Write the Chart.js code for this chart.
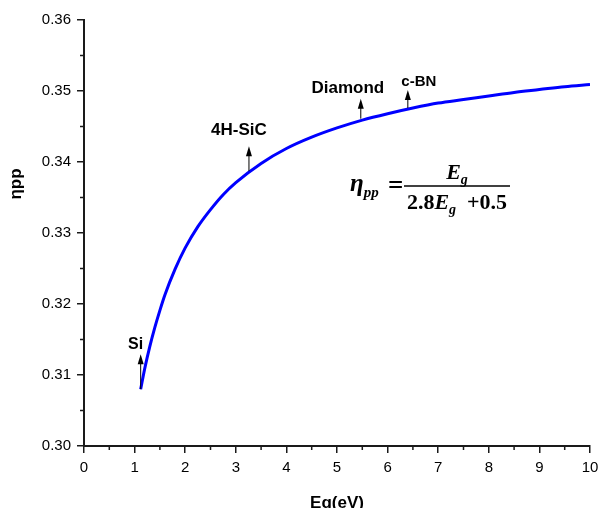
<!DOCTYPE html>
<html>
<head>
<meta charset="utf-8">
<script src="https://cdn.jsdelivr.net/npm/chart.js@4"></script>
<style>
  html, body { margin: 0; padding: 0; background: #fff; }
  .chart-wrapper { width: 601px; height: 508px; }
</style>
</head>
<body>
<div class="chart-wrapper"><canvas id="chart" width="601" height="508"></canvas></div>
<script>
// values
const energyGap = [1.12, 1.2, 1.3, 1.4, 1.5, 1.6, 1.8, 2.0, 2.25, 2.5, 2.75, 3.0, 3.5,
  4.0, 4.5, 5.0, 5.5, 6.0, 6.5, 7.0, 7.5, 8.0, 8.5, 9.0, 9.5, 10.0];
const efficiency = [0.3080, 0.3109, 0.3140, 0.3167, 0.3191, 0.3213, 0.3249, 0.3279, 0.3309,
  0.3333, 0.3354, 0.3371, 0.3398, 0.3419, 0.3435, 0.3448, 0.3459, 0.3468, 0.3476, 0.3483,
  0.3488, 0.3493, 0.3498, 0.3502, 0.3506, 0.3509];

// marked materials
const materialNames = ['Si', '4H-SiC', 'Diamond', 'c-BN'];
const materialGaps = [1.12, 3.26, 5.47, 6.4];
const materialEta = [0.3080, 0.3387, 0.3461, 0.3476];

const axisColor = '#1a1a1a';

const extrasPlugin = {
  id: 'extras',
  afterDraw(chart) {
    const ctx = chart.ctx;
    const xs = chart.scales.x;
    const ys = chart.scales.y;
    const area = chart.chartArea;
    ctx.save();

    // minor ticks
    ctx.strokeStyle = axisColor;
    ctx.lineWidth = 1.5;
    ctx.beginPath();
    for (let v = 0.5; v < 10; v += 1) {
      const px = xs.getPixelForValue(v);
      ctx.moveTo(px, area.bottom);
      ctx.lineTo(px, area.bottom + 4);
    }
    for (let v = 0.305; v < 0.36; v += 0.01) {
      const py = ys.getPixelForValue(v);
      ctx.moveTo(area.left, py);
      ctx.lineTo(area.left - 4, py);
    }
    ctx.stroke();

    // axis titles
    ctx.fillStyle = '#000';
    ctx.font = 'bold 17px Arial, "Liberation Sans", sans-serif';
    ctx.textAlign = 'center';
    ctx.textBaseline = 'middle';
    ctx.fillText('Eg(eV)', 337, 503);
    ctx.save();
    ctx.translate(16, 184);
    ctx.rotate(-Math.PI / 2);
    ctx.fillText('\u03b7pp', 0, 0);
    ctx.restore();

    // arrows and labels
    const arrowLen = [35, 25, 20, 18];
    const labelDx = [-5, -10, -13, 11];
    const labelGap = [5, 11, 6, 4];
    const labelSize = [16, 17, 17, 15];
    materialNames.forEach((name, i) => {
      const x = xs.getPixelForValue(materialGaps[i]);
      const yBase = ys.getPixelForValue(materialEta[i]);
      const yTip = yBase - arrowLen[i];
      ctx.strokeStyle = '#000';
      ctx.lineWidth = 1;
      ctx.beginPath();
      ctx.moveTo(x, yBase);
      ctx.lineTo(x, yTip + 6);
      ctx.stroke();
      ctx.beginPath();
      ctx.moveTo(x, yTip);
      ctx.lineTo(x - 3, yTip + 10);
      ctx.lineTo(x + 3, yTip + 10);
      ctx.closePath();
      ctx.fill();
      ctx.font = 'bold ' + labelSize[i] + 'px Arial, "Liberation Sans", sans-serif';
      ctx.textAlign = 'center';
      ctx.textBaseline = 'alphabetic';
      ctx.fillText(name, x + labelDx[i], yTip - labelGap[i]);
    });

    // formula
    const serif = '"Liberation Serif", "Times New Roman", serif';
    const big = 'bold 22px ' + serif;
    const bigIt = 'italic bold 22px ' + serif;
    const sub = 'italic bold 14px ' + serif;
    ctx.textAlign = 'left';
    ctx.textBaseline = 'alphabetic';
    ctx.font = 'italic bold 25px ' + serif;
    ctx.fillText('\u03b7', 350, 191);
    let w = ctx.measureText('\u03b7').width;
    ctx.font = 'italic bold 15px ' + serif;
    ctx.fillText('pp', 350 + w, 197);
    ctx.font = 'bold 27px ' + serif;
    ctx.fillText('=', 388, 194);

    const barL = 404, barR = 510, barY = 186;
    ctx.lineWidth = 1.5;
    ctx.beginPath();
    ctx.moveTo(barL, barY);
    ctx.lineTo(barR, barY);
    ctx.stroke();
    const mid = (barL + barR) / 2;

    const drawParts = (parts, baseY) => {
      let total = 0;
      parts.forEach(p => { ctx.font = p.font; total += ctx.measureText(p.text).width; });
      let cx = mid - total / 2;
      parts.forEach(p => {
        ctx.font = p.font;
        ctx.fillText(p.text, cx, baseY + (p.dy || 0));
        cx += ctx.measureText(p.text).width;
      });
    };
    drawParts([{ text: 'E', font: bigIt }, { text: 'g', font: sub, dy: 5 }], 179);
    drawParts([
      { text: '2.8', font: big },
      { text: 'E', font: bigIt },
      { text: 'g', font: sub, dy: 5 },
      { text: '  +0.5', font: big }
    ], 209);

    ctx.restore();
  }
};

new Chart(document.getElementById('chart').getContext('2d'), {
  type: 'line',
  data: {
    labels: energyGap,
    datasets: [{
      data: energyGap.map((x, i) => ({ x, y: efficiency[i] })),
      borderColor: '#0000ff',
      borderWidth: 3,
      pointRadius: 0,
      fill: false,
      cubicInterpolationMode: 'monotone',
    }],
  },
  options: {
    responsive: false,
    animation: false,
    maintainAspectRatio: false,
    layout: { padding: { top: 20, right: 11, left: 0, bottom: 0 } },
    plugins: { legend: { display: false }, tooltip: { enabled: false } },
    scales: {
      x: {
        type: 'linear',
        min: 0,
        max: 10,
        afterFit(scale) {
          scale.height = 62;
          scale.paddingRight = 0;
          scale.paddingLeft = 0;
        },
        ticks: {
          stepSize: 1,
          padding: 6,
          color: '#000',
          font: { family: 'Arial, "Liberation Sans", sans-serif', size: 15 },
          maxRotation: 0,
        },
        grid: { drawOnChartArea: false, drawTicks: true, tickLength: 7, color: axisColor, lineWidth: 1.5 },
        border: { display: true, color: axisColor, width: 2 },
      },
      y: {
        min: 0.30,
        max: 0.36,
        afterFit(scale) { scale.width = 84; },
        ticks: {
          stepSize: 0.01,
          padding: 6,
          color: '#000',
          font: { family: 'Arial, "Liberation Sans", sans-serif', size: 15 },
          callback: v => v.toFixed(2),
        },
        grid: { drawOnChartArea: false, drawTicks: true, tickLength: 7, color: axisColor, lineWidth: 1.5 },
        border: { display: true, color: axisColor, width: 2 },
      },
    },
  },
  plugins: [extrasPlugin],
});
</script>
</body>
</html>
